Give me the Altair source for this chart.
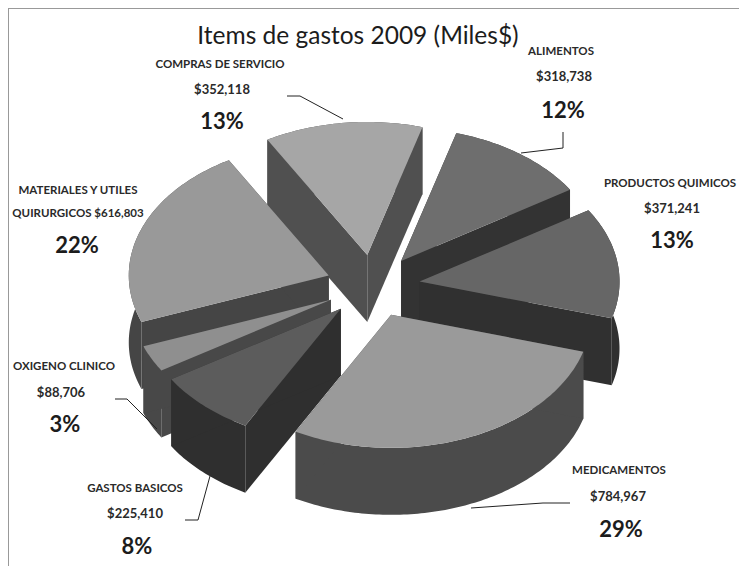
import math
import altair as alt
import pandas as pd

TITLE = "Items de gastos 2009 (Miles$)"
names = ["ALIMENTOS", "PRODUCTOS QUIMICOS", "MEDICAMENTOS", "GASTOS BASICOS",
         "OXIGENO CLINICO", "MATERIALES Y UTILES QUIRURGICOS", "COMPRAS DE SERVICIO"]
values = [318738, 371241, 784967, 225410, 88706, 616803, 352118]
amount_labels = ["$318,738", "$371,241", "$784,967", "$225,410", "$88,706", "$616,803", "$352,118"]
pct_labels = ["12%", "13%", "29%", "8%", "3%", "22%", "13%"]
top_shades = ["#6e6e6e", "#666666", "#9a9a9a", "#5c5c5c", "#8f8f8f", "#999999", "#a6a6a6"]
wall_shades = ["#333333", "#303030", "#4b4b4b", "#2f2f2f", "#484848", "#454545", "#505050"]
paint_order = [6, 0, 1, 5, 4, 3, 2]

W, H = 731, 558
CX, CY, RX, RY, EXPLODE, DEPTH, START = 373, 286, 200, 133, 47, 67, 16

total = sum(values)
edges = [START]
for v in values:
    edges.append(edges[-1] + 360 * v / total)


def pt(deg, r=1.0):
    a = math.radians(deg)
    return RX * r * math.sin(a), -RY * r * math.cos(a)


rows = []


def add_poly(pid, pts, shade):
    for k, (x, y) in enumerate(pts):
        rows.append({"poly": pid, "seq": k, "x": x, "y": y, "shade": shade})


for n, i in enumerate(paint_order):
    a0, a1 = edges[i], edges[i + 1]
    ex, ey = pt((a0 + a1) / 2, EXPLODE / RX)
    ax, ay = CX + ex, CY + ey
    steps = max(6, int(a1 - a0))
    arc = []
    for s in range(steps + 1):
        dx, dy = pt(a0 + (a1 - a0) * s / steps)
        arc.append((ax + dx, ay + dy))
    down = [(x, y + DEPTH) for x, y in arc]
    wall = wall_shades[i]
    add_poly(f"{n:02d}a", arc + down[::-1], wall)
    add_poly(f"{n:02d}b", [(ax, ay), arc[0], down[0], (ax, ay + DEPTH)], wall)
    add_poly(f"{n:02d}c", [(ax, ay), arc[-1], down[-1], (ax, ay + DEPTH)], wall)
    add_poly(f"{n:02d}d", [(ax, ay)] + arc, top_shades[i])

xs = alt.Scale(domain=[8, 8 + W], nice=False, zero=False)
ys = alt.Scale(domain=[8 + H, 8], nice=False, zero=False)
X = alt.X("x:Q", scale=xs, axis=None)
Y = alt.Y("y:Q", scale=ys, axis=None)

slices = alt.Chart(pd.DataFrame(rows)).mark_line(filled=True, interpolate="linear", clip=False).encode(
    x=X, y=Y, detail="poly:N", order="seq:Q",
    color=alt.Color("shade:N", scale=None, sort=None),
)

leader_paths = [
    [(287, 96), (300, 96), (343, 119)],
    [(563, 132), (563, 148), (521, 153)],
    [(115, 399), (127, 399), (157, 429)],
    [(185, 520), (198, 520), (210, 476)],
    [(570, 503), (543, 503), (471, 508)],
]
lrows = []
for j, p in enumerate(leader_paths):
    for k, (x, y) in enumerate(p):
        lrows.append({"id": j, "seq": k, "x": x, "y": y})
leaders = alt.Chart(pd.DataFrame(lrows)).mark_line(color="#222222", strokeWidth=1).encode(
    x=X, y=Y, detail="id:N", order="seq:Q")

name_text = [
    (names[6], 220, 65), (names[0], 561, 52), (names[1], 670, 184),
    ("MATERIALES Y UTILES", 78, 191), ("QUIRURGICOS " + amount_labels[5], 78, 214),
    (names[4], 64, 367), (names[3], 135, 489), (names[2], 619, 471),
]
amount_text = [
    (amount_labels[6], 222, 90), (amount_labels[0], 564, 77), (amount_labels[1], 672, 209),
    (amount_labels[4], 61, 393), (amount_labels[3], 135, 514), (amount_labels[2], 618, 497),
]
big_text = [
    (pct_labels[6], 222, 122), (pct_labels[0], 563, 111), (pct_labels[1], 672, 241),
    (pct_labels[5], 77, 246), (pct_labels[4], 65, 425), (pct_labels[3], 137, 547),
    (pct_labels[2], 621, 530),
]


def text_layer(items, **kw):
    df = pd.DataFrame(items, columns=["t", "x", "y"])
    return alt.Chart(df).mark_text(align="center", baseline="middle", font="Lato", **kw).encode(
        x=X, y=Y, text="t:N")


small = text_layer(name_text, fontSize=11.5, fontWeight="bold", color="#2a2a2a")
amounts = text_layer(amount_text, fontSize=13, fontWeight="bold", color="#2a2a2a")
big = text_layer(big_text, fontSize=22, fontWeight="bold", color="#1c1c1c")
title = text_layer([(TITLE, 358, 37)], fontSize=24.5, fontWeight="normal", color="#1c1c1c")

frame_top = alt.Chart(pd.DataFrame({"x": [8], "x2": [8 + W], "y": [8]})).mark_rule(color="#999999", strokeWidth=2).encode(
    x=X, x2="x2:Q", y=Y)
frame_left = alt.Chart(pd.DataFrame({"x": [8], "y": [8], "y2": [8 + H]})).mark_rule(color="#999999", strokeWidth=2).encode(
    x=X, y=Y, y2="y2:Q")

chart = alt.layer(frame_top, frame_left, slices, leaders, small, amounts, big, title).properties(
    width=W, height=H, padding=0, autosize=alt.AutoSizeParams(type="none"),
).configure_view(stroke=None)

chart.save("out.html", embed_options={"renderer": "svg", "actions": False})
